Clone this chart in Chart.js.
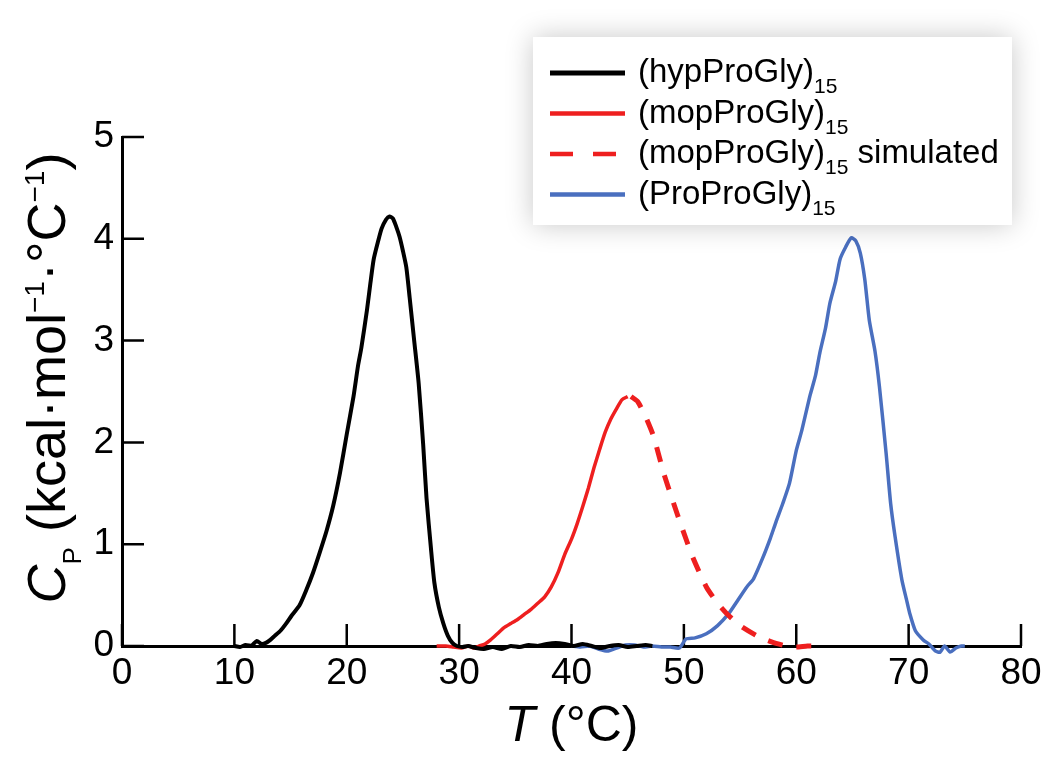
<!DOCTYPE html>
<html>
<head>
<meta charset="utf-8">
<script src="https://cdn.jsdelivr.net/npm/chart.js@4.4.0/dist/chart.umd.min.js"></script>
<style>
  html, body { margin: 0; padding: 0; background: #fff; }
  #wrap { width: 1050px; height: 762px; }
</style>
</head>
<body>
<div id="wrap"><canvas id="dsc" width="1050" height="762"></canvas></div>
<script>
// --- data (T in °C, Cp in kcal/mol/°C)
const hypT  = [10.0, 10.5, 11.0, 11.5, 12.0, 12.4, 12.8, 13.2, 13.6, 14.1, 14.6, 15.1, 15.8, 16.4, 17.0, 17.6, 18.2, 18.8, 19.4, 20.0,
               20.6, 21.0, 21.3, 21.8, 22.1, 22.4, 22.8, 23.1, 23.5, 23.8, 24.1, 24.4, 24.7, 25.0, 25.3, 25.6, 26.0, 26.4, 26.8, 27.1,
               27.5, 27.8, 28.2, 28.6, 29.0, 29.4, 29.8, 30.3, 30.8, 31.5, 32.2, 33.0, 33.8, 34.6, 35.4, 36.2, 37.0, 37.8, 38.6, 39.4,
               40.2, 41.0, 41.8, 42.6, 43.4, 44.2, 45.0, 45.8, 46.6, 47.2];
const hypCp = [0.00, -0.01, 0.01, 0.00, 0.05, 0.02, 0.03, 0.06, 0.10, 0.15, 0.22, 0.30, 0.40, 0.55, 0.72, 0.92, 1.13, 1.38, 1.70, 2.08,
               2.45, 2.75, 2.93, 3.30, 3.56, 3.80, 3.98, 4.10, 4.19, 4.22, 4.20, 4.12, 4.02, 3.88, 3.72, 3.42, 3.00, 2.58, 1.98, 1.45,
               0.95, 0.62, 0.38, 0.22, 0.10, 0.03, 0.00, -0.01, 0.00, -0.02, -0.03, -0.01, -0.03, 0.00, -0.01, 0.01, 0.00, 0.02, 0.03, 0.02,
               0.00, 0.02, 0.00, -0.02, 0.00, 0.01, -0.01, 0.00, 0.01, 0.00];

const mopT  = [28.0, 28.8, 29.5, 30.2, 30.8, 31.3, 31.8, 32.3, 32.8, 33.4, 34.0, 34.6, 35.2, 35.8, 36.4, 37.0, 37.6, 38.2, 38.8, 39.4,
               40.0, 40.5, 41.0, 41.5, 42.0, 42.5, 43.0, 43.5, 44.0, 44.5, 45.0];
const mopCp = [0.00, 0.00, -0.01, -0.02, 0.00, -0.02, 0.00, 0.02, 0.06, 0.12, 0.18, 0.22, 0.26, 0.31, 0.36, 0.42, 0.48, 0.58, 0.72, 0.90,
               1.05, 1.20, 1.37, 1.55, 1.75, 1.93, 2.10, 2.23, 2.33, 2.42, 2.45];

const simT  = [45.3, 45.9, 46.6, 47.3, 48.2, 49.0, 49.9, 50.8, 52.0, 53.0, 53.8, 55.0, 56.5, 57.8, 59.1, 60.0, 61.0, 62.0];
const simCp = [2.45, 2.40, 2.25, 2.06, 1.70, 1.43, 1.14, 0.87, 0.58, 0.42, 0.32, 0.20, 0.10, 0.04, 0.00, -0.01, 0.00, 0.00];

const proT  = [40.0, 40.8, 41.6, 42.4, 43.2, 44.0, 44.8, 45.6, 46.4, 47.2, 48.0, 48.8, 49.6, 50.2, 51.0, 52.0, 53.0, 54.0, 54.8, 55.6,
               56.2, 57.0, 57.7, 58.2, 58.8, 59.4, 60.0, 60.5, 61.2, 61.7, 62.1, 62.6, 63.0, 63.5, 63.9, 64.4, 64.9, 65.3, 65.7, 66.1,
               66.5, 67.0, 67.4, 68.0, 68.4, 68.8, 69.4, 69.8, 70.1, 70.6, 71.3, 71.8, 72.4, 72.8, 73.2, 73.7, 74.2, 74.7, 75.0];
const proCp = [0.00, -0.01, 0.00, -0.03, -0.05, -0.02, 0.01, 0.01, -0.01, 0.00, -0.01, -0.01, -0.02, 0.07, 0.08, 0.12, 0.20, 0.32, 0.45, 0.58,
               0.66, 0.86, 1.06, 1.22, 1.40, 1.60, 1.92, 2.12, 2.45, 2.65, 2.88, 3.12, 3.37, 3.58, 3.80, 3.92, 4.01, 3.98, 3.86, 3.60,
               3.20, 2.90, 2.55, 1.89, 1.40, 1.07, 0.65, 0.46, 0.32, 0.15, 0.06, 0.02, -0.05, -0.06, 0.00, -0.06, -0.02, 0.00, 0.00];

const legendNames  = ['(hypProGly)', '(mopProGly)', '(mopProGly)', '(ProProGly)'];
const legendSub    = ['15', '15', '15', '15'];
const legendSuffix = ['', '', ' simulated', ''];

const FONT = "'Liberation Sans', Arial, Helvetica, sans-serif";
const RED = '#ee1f1f', BLUE = '#4a6fbf';

const toXY = (xs, ys) => xs.map((x, i) => ({ x, y: ys[i] }));

function fontStr(p) {
  return (p.italic ? 'italic ' : '') + p.size + 'px ' + FONT;
}

// draws a run of text pieces (sub/superscripts via dy)
function richText(ctx, parts, x, y, align) {
  let w = 0;
  parts.forEach(p => { ctx.font = fontStr(p); w += ctx.measureText(p.t).width; });
  let cx = align === 'center' ? x - w / 2 : x;
  ctx.textBaseline = 'alphabetic';
  ctx.textAlign = 'left';
  parts.forEach(p => {
    ctx.font = fontStr(p);
    ctx.fillText(p.t, cx, y + (p.dy || 0));
    cx += ctx.measureText(p.t).width;
  });
}

// tick marks pointing into the plot
const innerTicks = {
  id: 'innerTicks',
  beforeDatasetsDraw(chart) {
    const { ctx, chartArea: a, scales: { x, y } } = chart;
    ctx.save();
    ctx.strokeStyle = '#000';
    ctx.lineWidth = 2.5;
    ctx.beginPath();
    x.ticks.forEach(t => {
      const px = x.getPixelForValue(t.value);
      ctx.moveTo(px, a.bottom); ctx.lineTo(px, a.bottom - 22);
    });
    y.ticks.forEach(t => {
      const py = y.getPixelForValue(t.value);
      ctx.moveTo(a.left, py); ctx.lineTo(a.left + 22, py);
    });
    ctx.stroke();
    ctx.restore();
  }
};

// axis titles with sub/superscripts
const axisTitles = {
  id: 'axisTitles',
  afterDraw(chart) {
    const { ctx, chartArea: a } = chart;
    ctx.save();
    ctx.fillStyle = '#000';
    richText(ctx, [
      { t: 'T', size: 50, italic: true },
      { t: ' (°C)', size: 50 }
    ], (a.left + a.right) / 2, 741, 'center');

    ctx.translate(65, 378);
    ctx.rotate(-Math.PI / 2);
    richText(ctx, [
      { t: 'C', size: 54, italic: true },
      { t: 'P', size: 26, dy: 16 },
      { t: ' (kcal·mol', size: 54 },
      { t: '−1', size: 28, dy: -21 },
      { t: '·°C', size: 54 },
      { t: '−1', size: 28, dy: -21 },
      { t: ')', size: 54 }
    ], 0, 0, 'center');
    ctx.restore();
  }
};

// boxed legend with soft shadow
const boxLegend = {
  id: 'boxLegend',
  afterDraw(chart) {
    const { ctx } = chart;
    const bx = 533, by = 37, bw = 479, bh = 188;
    ctx.save();
    ctx.shadowColor = 'rgba(0,0,0,0.22)';
    ctx.shadowBlur = 26;
    ctx.fillStyle = '#fff';
    ctx.fillRect(bx, by, bw, bh);
    ctx.restore();

    ctx.save();
    chart.data.datasets.forEach((ds, i) => {
      const ly = 73 + i * 40.5;
      ctx.strokeStyle = ds.borderColor;
      ctx.lineWidth = i === 0 ? 5 : 4.5;
      ctx.setLineDash(ds.borderDash ? [23, 20] : []);
      ctx.beginPath();
      ctx.moveTo(550, ly); ctx.lineTo(625, ly);
      ctx.stroke();
      ctx.fillStyle = '#000';
      richText(ctx, [
        { t: legendNames[i], size: 33 },
        { t: legendSub[i], size: 21, dy: 11 },
        { t: legendSuffix[i], size: 33 }
      ], 638, ly + 9, 'left');
    });
    ctx.restore();
  }
};

const tickFont = { family: FONT, size: 37 };

new Chart(document.getElementById('dsc'), {
  type: 'line',
  data: {
    datasets: [
      { label: '(hypProGly)15', data: toXY(hypT, hypCp), borderColor: '#000', borderWidth: 4 },
      { label: '(mopProGly)15', data: toXY(mopT, mopCp), borderColor: RED, borderWidth: 3.5 },
      { label: '(mopProGly)15 simulated', data: toXY(simT, simCp), borderColor: RED, borderWidth: 5, borderDash: [15, 14] },
      { label: '(ProProGly)15', data: toXY(proT, proCp), borderColor: BLUE, borderWidth: 3.5 }
    ].map(d => Object.assign(d, { pointRadius: 0, tension: 0.2, fill: false, clip: false }))
  },
  options: {
    responsive: false,
    animation: false,
    devicePixelRatio: 1,
    layout: { padding: { top: 137, right: 29, left: 0, bottom: 0 } },
    plugins: { legend: { display: false }, tooltip: { enabled: false } },
    scales: {
      x: {
        type: 'linear', min: 0, max: 80,
        ticks: { stepSize: 10, color: '#000', font: tickFont, padding: 6, maxRotation: 0 },
        grid: { display: false, drawTicks: false },
        border: { display: true, color: '#000', width: 3 },
        afterFit: s => { s.height = 116; }
      },
      y: {
        type: 'linear', min: 0, max: 5,
        ticks: { stepSize: 1, color: '#000', font: tickFont, padding: 8 },
        grid: { display: false, drawTicks: false },
        border: { display: true, color: '#000', width: 3 },
        afterFit: s => { s.width = 122; }
      }
    }
  },
  plugins: [innerTicks, axisTitles, boxLegend]
});
</script>
</body>
</html>
